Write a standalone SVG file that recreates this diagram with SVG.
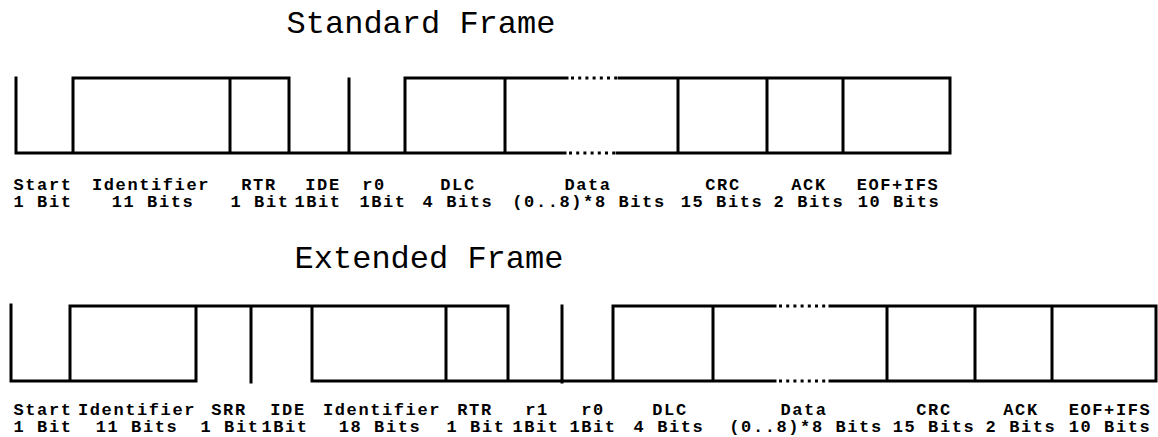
<svg xmlns="http://www.w3.org/2000/svg" width="1158" height="437" viewBox="0 0 1158 437">
<style>
.bg{fill:#ffffff}
.w{fill:none;stroke:#000;stroke-width:3;stroke-linecap:square;stroke-linejoin:miter}
.dot{fill:none;stroke:#000;stroke-width:3;stroke-dasharray:3 4.2}
.title{font-family:"Liberation Mono","Courier New",monospace;font-size:32px;fill:#000;text-anchor:middle}
.lbl{font-family:"Liberation Mono","Courier New",monospace;font-size:17px;letter-spacing:1.6px;font-weight:bold;fill:#000;text-anchor:middle}
</style>
<rect class="bg" x="0" y="0" width="1158" height="437"/>

<g id="standard-frame">
  <text class="title" x="421" y="33">Standard Frame</text>
  <g id="std-waveform">
    <path class="w" d="M16,78 V153 H565 M617,153 H950 V78 H619 M567,78 H405 V153 M73,153 V78 H289 V153 M230,78 V153 M349,79 V153 M505,78 V153 M678,78 V153 M767,78 V153 M843,78 V153"/>
    <line class="dot" x1="571" y1="78" x2="617" y2="78"/>
    <line class="dot" x1="569" y1="153" x2="615" y2="153"/>
  </g>
  <g id="std-start"><text class="lbl" x="43" y="190">Start</text><text class="lbl" x="43" y="207">1 Bit</text></g>
  <g id="std-identifier"><text class="lbl" x="151" y="190">Identifier</text><text class="lbl" x="153" y="207">11 Bits</text></g>
  <g id="std-rtr"><text class="lbl" x="259" y="190">RTR</text><text class="lbl" x="260" y="207">1 Bit</text></g>
  <g id="std-ide"><text class="lbl" x="323" y="190">IDE</text><text class="lbl" x="318" y="207">1Bit</text></g>
  <g id="std-r0"><text class="lbl" x="374" y="190">r0</text><text class="lbl" x="383" y="207">1Bit</text></g>
  <g id="std-dlc"><text class="lbl" x="458" y="190">DLC</text><text class="lbl" x="458" y="207">4 Bits</text></g>
  <g id="std-data"><text class="lbl" x="588" y="190">Data</text><text class="lbl" x="589" y="207">(0..8)*8 Bits</text></g>
  <g id="std-crc"><text class="lbl" x="723" y="190">CRC</text><text class="lbl" x="722" y="207">15 Bits</text></g>
  <g id="std-ack"><text class="lbl" x="809" y="190">ACK</text><text class="lbl" x="809" y="207">2 Bits</text></g>
  <g id="std-eof"><text class="lbl" x="898" y="190">EOF+IFS</text><text class="lbl" x="899" y="207">10 Bits</text></g>
</g>

<g id="extended-frame">
  <text class="title" x="429" y="268">Extended Frame</text>
  <g id="ext-waveform">
    <path class="w" d="M11,305 V381 H196 V306 M70,381 V306 H508 V381 M613,381 V306 H775 M830,306 H1156 V381 H830 M775,381 H312 V306 M251,306 V382 M446,306 V381 M562,306 V382 M713,306 V381 M887,306 V381 M975,306 V381 M1052,306 V381"/>
    <line class="dot" x1="779" y1="306" x2="828" y2="306"/>
    <line class="dot" x1="779" y1="381" x2="828" y2="381"/>
  </g>
  <g id="ext-start"><text class="lbl" x="43" y="415">Start</text><text class="lbl" x="43" y="432">1 Bit</text></g>
  <g id="ext-identifier-a"><text class="lbl" x="137" y="415">Identifier</text><text class="lbl" x="137" y="432">11 Bits</text></g>
  <g id="ext-srr"><text class="lbl" x="229" y="415">SRR</text><text class="lbl" x="230" y="432">1 Bit</text></g>
  <g id="ext-ide"><text class="lbl" x="288" y="415">IDE</text><text class="lbl" x="285" y="432">1Bit</text></g>
  <g id="ext-identifier-b"><text class="lbl" x="382" y="415">Identifier</text><text class="lbl" x="380" y="432">18 Bits</text></g>
  <g id="ext-rtr"><text class="lbl" x="475" y="415">RTR</text><text class="lbl" x="476" y="432">1 Bit</text></g>
  <g id="ext-r1"><text class="lbl" x="537" y="415">r1</text><text class="lbl" x="536" y="432">1Bit</text></g>
  <g id="ext-r0"><text class="lbl" x="593" y="415">r0</text><text class="lbl" x="593" y="432">1Bit</text></g>
  <g id="ext-dlc"><text class="lbl" x="670" y="415">DLC</text><text class="lbl" x="669" y="432">4 Bits</text></g>
  <g id="ext-data"><text class="lbl" x="804" y="415">Data</text><text class="lbl" x="806" y="432">(0..8)*8 Bits</text></g>
  <g id="ext-crc"><text class="lbl" x="934" y="415">CRC</text><text class="lbl" x="934" y="432">15 Bits</text></g>
  <g id="ext-ack"><text class="lbl" x="1021" y="415">ACK</text><text class="lbl" x="1021" y="432">2 Bits</text></g>
  <g id="ext-eof"><text class="lbl" x="1110" y="415">EOF+IFS</text><text class="lbl" x="1110" y="432">10 Bits</text></g>
</g>
</svg>
